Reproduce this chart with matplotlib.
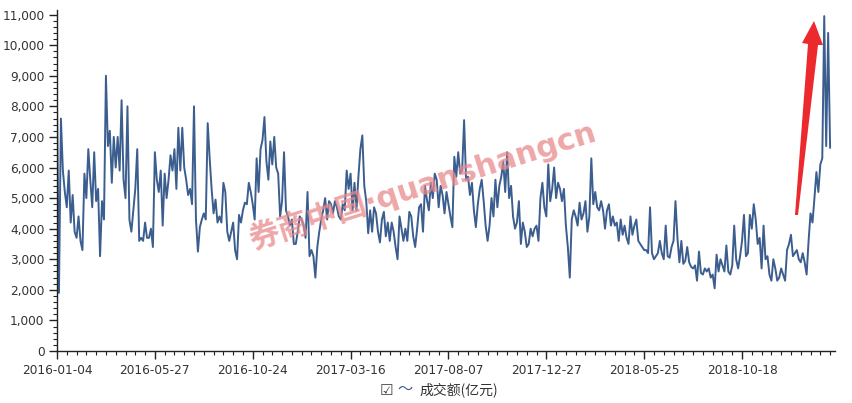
import matplotlib.pyplot as plt
import numpy as np
from matplotlib.ticker import MultipleLocator, FuncFormatter
from matplotlib.patches import Polygon

# daily turnover, 千亿元 (every 2 trading days)
turnover = [
    8.1, 1.9, 7.6, 5.9, 5.2, 4.7, 5.9, 4.2, 5.1, 3.9, 3.7, 4.4, 3.6, 3.3, 5.8, 5.0,
    6.6, 5.6, 4.7, 6.5, 4.9, 5.3, 3.1, 4.9, 4.3, 9.0, 6.7, 7.2, 5.5, 7.0, 6.0, 7.0,
    5.9, 8.2, 5.6, 5.0, 8.0, 4.3, 3.9, 4.6, 5.3, 6.6, 3.6, 3.7, 3.6, 4.2, 3.7,
    3.7, 4.0, 3.4, 6.5, 5.6, 5.2, 5.9, 4.1, 5.8, 5.0, 5.6, 6.4, 5.9, 6.6, 5.3, 7.3,
    5.9, 7.3, 6.0, 5.6, 5.1, 5.3, 4.8, 8.0, 4.3, 3.25, 4.05, 4.3, 4.5, 4.3, 7.45, 6.3,
    5.3, 4.5, 4.95, 4.2, 4.4, 4.2, 5.5, 5.2, 3.9, 3.6, 3.9, 4.2, 3.3, 3.0, 4.45,
    4.2, 4.6, 4.85, 4.8, 5.5, 5.2, 4.8, 4.3, 6.3, 5.2, 6.6, 6.9, 7.65, 6.2, 5.6, 6.85,
    6.1, 7.0, 6.0, 5.8, 4.4, 4.9, 6.5, 4.6, 4.4, 4.1, 4.3, 3.5, 3.5, 3.9, 4.4, 4.3,
    4.1, 3.7, 5.2, 3.1, 3.3, 3.1, 2.4, 3.4, 3.9, 4.3, 4.6, 5.0, 4.3, 4.9, 4.8, 4.5,
    4.9, 4.7, 4.4, 4.3, 4.8, 4.6, 5.9, 5.3, 5.8, 4.6, 5.5, 4.6, 5.7, 6.6, 7.05, 5.4,
    4.9, 3.85, 4.6, 3.9, 4.7, 4.5, 3.9, 3.55, 4.3, 4.55, 3.75, 4.2, 3.6, 4.2, 3.9, 3.4,
    3.0, 4.4, 4.0, 3.6, 4.0, 3.6, 4.55, 4.4, 3.75, 3.4, 4.0, 4.7, 4.8, 3.9, 5.4,
    4.95, 4.6, 5.5, 5.0, 5.8, 5.6, 4.7, 5.4, 5.1, 4.5, 5.2, 4.8, 4.4, 4.05, 6.35, 5.7,
    6.5, 5.8, 5.9, 7.55, 5.6, 5.7, 5.1, 5.5, 4.6, 4.05, 4.8, 5.3, 5.6, 4.9, 4.1, 3.6,
    4.1, 5.0, 4.4, 5.6, 4.7, 5.4, 5.7, 6.2, 5.2, 6.5, 5.0, 5.4, 4.4, 4.0, 4.2, 4.9,
    3.5, 4.2, 3.9, 3.4, 3.5, 4.0, 3.75, 4.0, 4.1, 3.6, 5.0, 5.5, 4.7, 4.4, 6.1, 4.9,
    5.3, 6.0, 5.0, 5.5, 5.3, 4.9, 5.3, 4.1, 3.4, 2.4, 4.3, 4.6, 4.4, 4.1, 4.85, 4.3,
    4.5, 4.9, 3.9, 4.4, 6.3, 4.8, 5.2, 4.7, 4.6, 4.9, 4.6, 4.0, 4.6, 4.8, 4.1, 4.4,
    4.1, 4.2, 3.6, 4.3, 3.8, 4.1, 3.7, 3.5, 4.4, 3.8, 4.1, 4.3, 3.6, 3.5, 3.4, 3.3,
    3.3, 3.2, 4.7, 3.2, 3.0, 3.1, 3.2, 3.6, 3.2, 3.0, 4.1, 3.1, 3.05, 3.4, 3.6, 4.9,
    3.7, 2.9, 3.6, 2.85, 2.95, 3.4, 2.9, 2.75, 2.7, 2.8, 2.3, 3.25, 2.55, 2.5, 2.7, 2.6, 2.7,
    2.4, 2.5, 2.05, 3.15, 2.6, 3.0, 2.8, 2.6, 3.45, 2.6, 2.5, 2.8, 4.1, 3.0, 2.7, 3.1,
    3.6, 4.45, 3.1, 3.2, 4.45, 4.0, 4.8, 4.3, 3.5, 3.7, 2.7, 4.1, 3.0, 3.1, 2.5, 2.3,
    3.0, 2.7, 2.3, 2.4, 2.7, 2.5, 2.3, 3.3, 3.5, 3.8, 3.1, 3.2, 3.3, 3.0, 2.9, 3.2,
    2.9, 2.5, 3.6, 4.5, 4.2, 5.0, 5.85, 5.2, 6.1, 6.3, 10.95, 6.7, 10.4, 6.65,
]
tick_labels = ['2016-01-04', '2016-05-27', '2016-10-24', '2017-03-16',
               '2017-08-07', '2017-12-27', '2018-05-25', '2018-10-18']
tick_step = 50
series_name = '成交额(亿元)'
watermark = '券商中国·quanshangcn'

W, H = 852, 403
fig = plt.figure(figsize=(W / 100, H / 100), dpi=100)
ax = fig.add_axes([57 / W, 52 / H, 778 / W, 341 / H])

vals = np.array(turnover) * 1000
x = np.arange(len(vals))
ax.plot(x, vals, color='#3b5e8f', lw=1.4)

ax.set_xlim(0, len(vals) + 1.5)
ax.set_ylim(0, 11150)
ax.set_xticks(np.arange(len(tick_labels)) * tick_step)
ax.set_xticklabels(tick_labels)
ax.xaxis.set_minor_locator(MultipleLocator(5))
ax.set_yticks(np.arange(0, 11001, 1000))
ax.yaxis.set_major_formatter(FuncFormatter(lambda v, p: '{:,.0f}'.format(v)))
ax.yaxis.set_minor_locator(MultipleLocator(200))

for s in ['top', 'right']:
    ax.spines[s].set_visible(False)
for s in ['left', 'bottom']:
    ax.spines[s].set_color('#222222')
    ax.spines[s].set_linewidth(1.0)
ax.tick_params(which='major', length=6, width=1, color='#222222',
               labelsize=8.7, labelcolor='#333333', pad=3)
ax.tick_params(which='minor', length=3, width=0.8, color='#222222')

# watermark
fig.text(422 / W, 1 - 185 / H, watermark, rotation=17.5, rotation_mode='anchor',
         ha='center', va='center', fontsize=22, weight='bold', color='#e8898c',
         alpha=0.75, family=['DejaVu Sans', 'Noto Sans CJK SC'])

# red arrow
arrow_px = [(795, 215), (808, 44), (802, 43), (814, 21), (823, 45), (818, 45), (798, 215)]
arrow = Polygon([(px / W, 1 - py / H) for px, py in arrow_px], closed=True,
                transform=fig.transFigure, facecolor='#ec2a2e', edgecolor='none')
fig.patches.append(arrow)

# legend
fig.text(386 / W, 1 - 390 / H, '☑', ha='center', va='center', fontsize=11,
         color='#444444', family='DejaVu Sans')
fig.text(405 / W, 1 - 389 / H, '〜', ha='center', va='center', fontsize=11,
         color='#3b5e8f', family=['Noto Sans CJK SC', 'DejaVu Sans'])
fig.text(459 / W, 1 - 390 / H, series_name, ha='center', va='center',
         fontsize=10, color='#333333', family=['Noto Sans CJK SC', 'DejaVu Sans'])

fig.savefig('out.png', dpi=100)
